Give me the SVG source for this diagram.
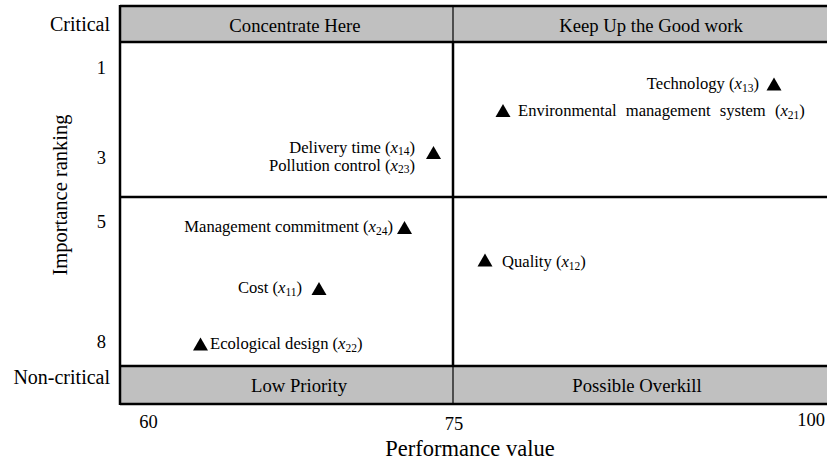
<svg xmlns="http://www.w3.org/2000/svg" xmlns:xlink="http://www.w3.org/1999/xlink" width="827" height="465" viewBox="0 0 827 465">
<style>
  .band { fill: #c0c0c0; stroke: none; }
  .thick { stroke: #000; stroke-width: 2.5; fill: none; }
  .thin { stroke: #000; stroke-width: 1.2; fill: none; }
  .q { font-size: 18.7px; text-anchor: middle; }
  .ax { font-size: 20px; text-anchor: end; }
  .num { font-size: 18.5px; }
  .lbl { font-size: 16.6px; }
  .it { font-style: italic; }
  .sub { font-size: 11.5px; }
  .tri { fill: #000; }
</style>
<defs>
  <path id="tri" d="M0,-7 L7.5,6 L-7.5,6 Z"/>
</defs>
<rect width="827" height="465" fill="#fff"/>
<g id="grid">
  <rect class="band" x="120" y="6" width="710" height="36"/>
  <rect class="band" x="120" y="366" width="710" height="38"/>
  <line class="thick" x1="120" y1="6" x2="830" y2="6"/>
  <line class="thick" x1="120" y1="42" x2="830" y2="42"/>
  <line class="thick" x1="120" y1="197" x2="830" y2="197"/>
  <line class="thick" x1="120" y1="366" x2="830" y2="366"/>
  <line class="thick" x1="120" y1="404" x2="830" y2="404"/>
  <line class="thick" x1="120" y1="5" x2="120" y2="405"/>
  <line class="thin" x1="453" y1="6" x2="453" y2="42"/>
  <line class="thick" x1="453" y1="42" x2="453" y2="366"/>
  <line class="thin" x1="453" y1="366" x2="453" y2="404"/>
</g>
<g font-family="'Liberation Serif', 'DejaVu Serif', serif" fill="#000">
<g id="quadrant-labels">
  <text class="q" x="295" y="32">Concentrate Here</text>
  <text class="q" x="651" y="32">Keep Up the Good work</text>
  <text class="q" x="299" y="392">Low Priority</text>
  <text class="q" x="637" y="392">Possible Overkill</text>
</g>
<g id="axes">
  <text class="ax" x="110" y="31">Critical</text>
  <text class="ax" x="110" y="384">Non-critical</text>
  <text class="num" x="106" y="74" text-anchor="end">1</text>
  <text class="num" x="106" y="164" text-anchor="end">3</text>
  <text class="num" x="106" y="228" text-anchor="end">5</text>
  <text class="num" x="106" y="348" text-anchor="end">8</text>
  <text class="num" x="148.5" y="428" text-anchor="middle">60</text>
  <text class="num" x="454" y="430" text-anchor="middle">75</text>
  <text class="num" x="825" y="426" text-anchor="end">100</text>
  <text x="470" y="456" font-size="22.5" text-anchor="middle">Performance value</text>
  <text transform="translate(67,195) rotate(-90)" font-size="20.5" text-anchor="middle">Importance ranking</text>
</g>
<g id="points">
  <g id="technology">
    <use xlink:href="#tri" href="#tri" class="tri" x="774" y="84.5"/>
    <text class="lbl" x="759" y="89" text-anchor="end">Technology (<tspan class="it">x</tspan><tspan class="sub" dy="2.5">13</tspan><tspan dy="-2.5">)</tspan></text>
  </g>
  <g id="ems">
    <use xlink:href="#tri" href="#tri" class="tri" x="503" y="111"/>
    <text class="lbl" x="518" y="116" word-spacing="5">Environmental management system (<tspan class="it">x</tspan><tspan class="sub" dy="2.5">21</tspan><tspan dy="-2.5">)</tspan></text>
  </g>
  <g id="delivery-pollution">
    <use xlink:href="#tri" href="#tri" class="tri" x="433.5" y="153"/>
    <text class="lbl" x="415" y="152.5" text-anchor="end">Delivery time (<tspan class="it">x</tspan><tspan class="sub" dy="2">14</tspan><tspan dy="-2">)</tspan></text>
    <text class="lbl" x="415" y="170.5" text-anchor="end">Pollution control (<tspan class="it">x</tspan><tspan class="sub" dy="2.5">23</tspan><tspan dy="-2.5">)</tspan></text>
  </g>
  <g id="management">
    <use xlink:href="#tri" href="#tri" class="tri" x="404.5" y="228"/>
    <text class="lbl" x="393" y="232" text-anchor="end">Management commitment (<tspan class="it">x</tspan><tspan class="sub" dy="2.5">24</tspan><tspan dy="-2.5">)</tspan></text>
  </g>
  <g id="quality">
    <use xlink:href="#tri" href="#tri" class="tri" x="485" y="260.5"/>
    <text class="lbl" x="502" y="267">Quality (<tspan class="it">x</tspan><tspan class="sub" dy="2.5">12</tspan><tspan dy="-2.5">)</tspan></text>
  </g>
  <g id="cost">
    <use xlink:href="#tri" href="#tri" class="tri" x="319" y="289"/>
    <text class="lbl" x="302" y="293" text-anchor="end">Cost (<tspan class="it">x</tspan><tspan class="sub" dy="2.5">11</tspan><tspan dy="-2.5">)</tspan></text>
  </g>
  <g id="ecological">
    <use xlink:href="#tri" href="#tri" class="tri" x="200.5" y="344.5"/>
    <text class="lbl" x="210" y="349">Ecological design (<tspan class="it">x</tspan><tspan class="sub" dy="2.5">22</tspan><tspan dy="-2.5">)</tspan></text>
  </g>
</g>
</g>
</svg>
